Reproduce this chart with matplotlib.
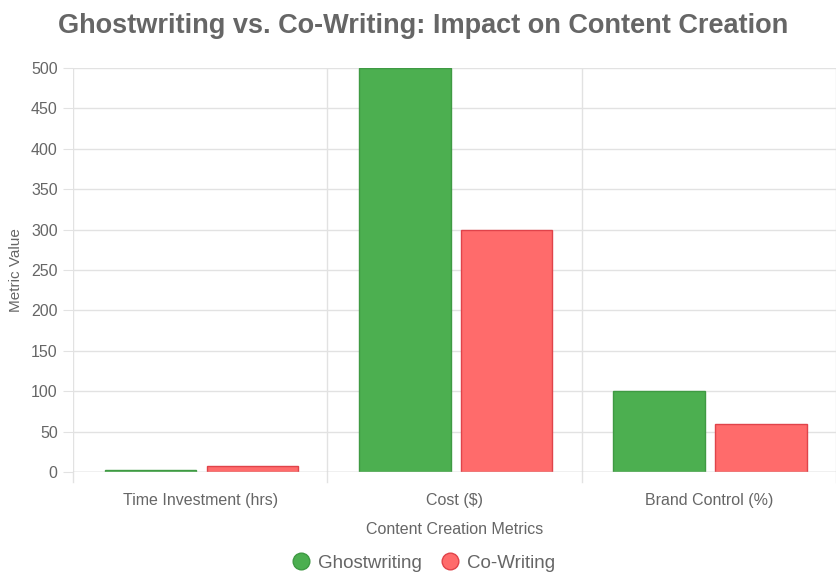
import numpy as np
import matplotlib
matplotlib.use("Agg")
import matplotlib.pyplot as plt
from matplotlib.lines import Line2D

plt.rcParams['font.family'] = ['Liberation Sans', 'DejaVu Sans']

# data
categories = ["Time Investment (hrs)", "Cost ($)", "Brand Control (%)"]
ghost_vals = [3, 500, 100]
cowrite_vals = [8, 300, 60]
series_names = ["Ghostwriting", "Co-Writing"]
y_ticks = [0, 50, 100, 150, 200, 250, 300, 350, 400, 450, 500]

green, green_edge = "#4CAF50", "#3f9a43"
red, red_edge = "#FF6B6B", "#e0434a"
text_col = "#666666"
grid_col = "#e2e2e2"

fig = plt.figure(figsize=(8.37, 5.83), dpi=100)
ax = fig.add_axes([73/837, 1 - 472/583, (836 - 73)/837, (472 - 68)/583])

x = np.arange(len(categories))
w = 0.8 / 2
bar_w = w * 0.9
ax.bar(x - w/2 + 0.005, ghost_vals, width=bar_w, color=green, edgecolor=green_edge,
       linewidth=1, zorder=3, label=series_names[0])
ax.bar(x + w/2 + 0.005, cowrite_vals, width=bar_w, color=red, edgecolor=red_edge,
       linewidth=1, zorder=3, label=series_names[1])

ax.set_xlim(-0.5, len(categories) - 0.5)
ax.set_ylim(0, 500)
ax.set_yticks(y_ticks)
ax.set_xticks(x)
ax.set_xticklabels(categories)

# grid: horizontal at ticks, vertical at category boundaries
for yv in y_ticks:
    ax.axhline(yv, color=grid_col, lw=1, zorder=0)
for b in np.arange(-0.5, len(categories), 1.0):
    ax.axvline(b, color=grid_col, lw=1, zorder=0)
    ax.plot([b, b], [0, -12], color=grid_col, lw=1, clip_on=False, zorder=0)
ax.axhline(0, color="#cfcfcf", lw=1, zorder=4)

for s in ax.spines.values():
    s.set_visible(False)
ax.tick_params(axis='y', length=7, color=grid_col, colors=text_col, labelsize=11.5, pad=4)
ax.tick_params(axis='x', length=0, colors=text_col, labelsize=11.5, pad=15)

ax.set_xlabel("Content Creation Metrics", color=text_col, fontsize=11.5, labelpad=10)
ax.set_ylabel("Metric Value", color=text_col, fontsize=11, labelpad=6)

fig.suptitle("Ghostwriting vs. Co-Writing: Impact on Content Creation",
             x=0.505, y=0.978, fontsize=19.5, fontweight='bold', color=text_col)

handles = [
    Line2D([], [], marker='o', linestyle='', markersize=12,
           markerfacecolor=green, markeredgecolor=green_edge),
    Line2D([], [], marker='o', linestyle='', markersize=12,
           markerfacecolor=red, markeredgecolor=red_edge),
]
leg = fig.legend(handles, series_names, loc='center', bbox_to_anchor=(0.505, 1 - 563/583),
                 ncol=2, frameon=False, fontsize=13.5, handletextpad=0.3,
                 columnspacing=0.9, handlelength=1.2)
for t in leg.get_texts():
    t.set_color(text_col)

fig.savefig("out.png", dpi=100)
